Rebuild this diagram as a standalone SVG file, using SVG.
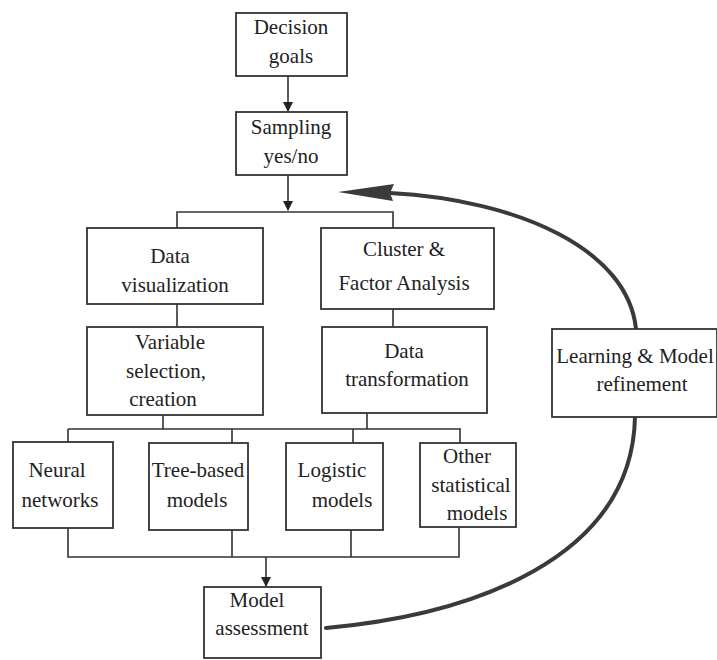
<svg xmlns="http://www.w3.org/2000/svg" width="717" height="660" viewBox="0 0 717 660">
<style>
.box{fill:#fff;stroke:#333;stroke-width:1.8}
.ln{fill:none;stroke:#333;stroke-width:1.6}
.cv{fill:none;stroke:#3a3a3a;stroke-width:4;stroke-linecap:round}
text{font-family:"Liberation Serif","Times New Roman","DejaVu Serif",serif;font-size:21px;fill:#222;text-anchor:middle}
</style>
<defs>
<marker id="ah" markerWidth="10" markerHeight="10" refX="9" refY="5" orient="auto" markerUnits="userSpaceOnUse">
<path d="M0,0 L10,5 L0,10 Z" fill="#222"/>
</marker>
</defs>
<rect width="717" height="660" fill="#fff"/>
<g id="connectors">
<line class="ln" x1="288" y1="76" x2="288" y2="111" marker-end="url(#ah)"/>
<line class="ln" x1="288" y1="175" x2="288" y2="210" marker-end="url(#ah)"/>
<polyline class="ln" points="177,228 177,212 393,212 393,228"/>
<line class="ln" x1="177" y1="304" x2="177" y2="327"/>
<line class="ln" x1="393" y1="309" x2="393" y2="327"/>
<line class="ln" x1="163" y1="415" x2="163" y2="429"/>
<line class="ln" x1="367" y1="413" x2="367" y2="429"/>
<line class="ln" x1="68" y1="429" x2="461" y2="429"/>
<line class="ln" x1="68" y1="429" x2="68" y2="442"/>
<line class="ln" x1="232" y1="429" x2="232" y2="443"/>
<line class="ln" x1="353" y1="429" x2="353" y2="443"/>
<line class="ln" x1="460" y1="429" x2="460" y2="443"/>
<polyline class="ln" points="68,528 68,557 459,557 459,527"/>
<line class="ln" x1="232" y1="530" x2="232" y2="557"/>
<line class="ln" x1="351" y1="530" x2="351" y2="557"/>
<line class="ln" x1="266" y1="557" x2="266" y2="586" marker-end="url(#ah)"/>
<path class="cv" d="M326,628 C470,615 632,560 635,417"/>
<path class="cv" d="M636,329 C628,250 520,200 390,193" stroke-width="3.5"/>
<polygon points="338,192 394,184 390,193 393,201" fill="#3a3a3a"/>
</g>
<g id="decision">
<rect class="box" x="236" y="13" width="111" height="63"/>
<text x="291" y="34">Decision</text>
<text x="291" y="63">goals</text>
</g>
<g id="sampling">
<rect class="box" x="236" y="112" width="111" height="63"/>
<text x="291" y="134">Sampling</text>
<text x="291" y="163">yes/no</text>
</g>
<g id="dataviz">
<rect class="box" x="87" y="228" width="176" height="76"/>
<text x="170" y="263">Data</text>
<text x="175" y="292">visualization</text>
</g>
<g id="cluster">
<rect class="box" x="321" y="228" width="173" height="81"/>
<text x="404" y="256">Cluster &amp;</text>
<text x="404" y="290">Factor Analysis</text>
</g>
<g id="variable">
<rect class="box" x="87" y="327" width="176" height="88"/>
<text x="170" y="349">Variable</text>
<text x="166" y="378">selection,</text>
<text x="163" y="406">creation</text>
</g>
<g id="transform">
<rect class="box" x="322" y="327" width="165" height="86"/>
<text x="404" y="358">Data</text>
<text x="407" y="386">transformation</text>
</g>
<g id="neural">
<rect class="box" x="13" y="442" width="100" height="86"/>
<text x="57" y="477">Neural</text>
<text x="60" y="507">networks</text>
</g>
<g id="tree">
<rect class="box" x="149" y="443" width="99" height="87"/>
<text x="198" y="477">Tree-based</text>
<text x="197" y="507">models</text>
</g>
<g id="logistic">
<rect class="box" x="286" y="443" width="97" height="87"/>
<text x="332" y="477">Logistic</text>
<text x="342" y="507">models</text>
</g>
<g id="other">
<rect class="box" x="420" y="443" width="96" height="84"/>
<text x="467" y="463">Other</text>
<text x="471" y="492">statistical</text>
<text x="477" y="520">models</text>
</g>
<g id="assessment">
<rect class="box" x="204" y="587" width="117" height="71"/>
<text x="257" y="607">Model</text>
<text x="262" y="635">assessment</text>
</g>
<g id="learning">
<rect class="box" x="552" y="329" width="165" height="88"/>
<text x="635" y="363">Learning &amp; Model</text>
<text x="642" y="391">refinement</text>
</g>
</svg>
